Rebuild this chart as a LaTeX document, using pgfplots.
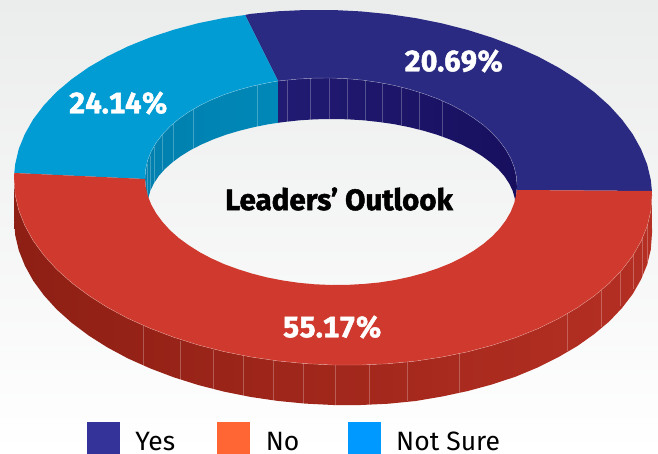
\documentclass[border=0pt]{standalone}
\usepackage{pgfplots}
\pgfplotsset{compat=1.18}
\usepackage{fontspec}
\setmainfont{Fira Sans}
\newfontfamily\labelfont[Numbers=Monospaced,FakeBold=1.6]{Fira Sans Bold}
\definecolor{bgtop}{HTML}{EBECEC}
\definecolor{bgmid}{HTML}{F3F4F4}
\definecolor{topnavy}{HTML}{2A2A82}
\definecolor{topblue}{HTML}{009CD3}
\definecolor{topred}{HTML}{D0392D}
\definecolor{wallredL}{HTML}{8E1F14}
\definecolor{wallredM}{HTML}{A42B1E}
\definecolor{wallredR}{HTML}{B52F23}
\definecolor{wallblueL}{HTML}{0080AE}
\definecolor{wallblueR}{HTML}{0088B8}
\definecolor{wallnavyL}{HTML}{211B73}
\definecolor{wallnavyR}{HTML}{170F5E}
\definecolor{keyyes}{HTML}{333399}
\definecolor{keyno}{HTML}{FF6633}
\definecolor{keyns}{HTML}{0099FF}
\pgfplotsset{
  seam/.style={draw=white,draw opacity=0.25,line width=0.45pt,fill=none},
  rim/.style={draw=white,draw opacity=0.4,line width=0.4pt,fill=none},
  swatch/.style={legend image code/.code={\fill[##1] (0pt,-11pt) rectangle (32pt,20pt);}}
}
\newcommand{\keytext}[1]{\fontsize{26.5}{26.5}\selectfont\raisebox{-1.2pt}{#1}}
\begin{document}
\begin{tikzpicture}
\useasboundingbox (0,0) rectangle (658pt,453pt);
\shade[top color=bgtop,middle color=bgmid,bottom color=white] (0,0) rectangle (658pt,453pt);
\begin{axis}[
  at={(0,0)},anchor=south west,
  width=658pt,height=453pt,scale only axis,
  xmin=0,xmax=658,ymin=0,ymax=453,y dir=reverse,
  hide axis,no markers,
  every axis plot/.append style={forget plot},
  legend style={at={(axis cs:87,453)},anchor=south west,draw=none,fill=none,
    inner sep=0pt,outer sep=0pt,legend columns=3,
    /tikz/every odd column/.append style={column sep=16pt},
    /tikz/every even column/.append style={column sep=0pt},
    nodes={inner sep=0pt,outer sep=0pt}},
  legend cell align=left,
]
% outer side wall of the ring, front half
\addplot[draw=none,left color=wallredL,middle color=wallredM,right color=wallredR] coordinates {
(14.3,173)(14,179.5)(15.2,195.1)(18.8,210.4)(24.9,225.7)(33.2,240.7)(43.9,255.3)(56.7,269.4)(71.7,282.8)(88.6,295.5)(107.4,307.4)(127.9,318.4)(150,328.3)(173.5,337.2)(198.2,345)(223.9,351.6)(250.4,356.9)(277.6,360.9)(305.2,363.6)(333,365)(360.8,365)(388.4,363.7)(415.6,361.1)(442.1,357)(467.8,351.8)(492.5,345.2)(516,337.5)(538.1,328.6)(558.6,318.6)(577.4,307.7)(594.3,295.8)(609.3,283.2)(622.1,269.7)(632.8,255.7)(641.1,241.1)(647.2,226.2)(650.8,210.9)(652,195.5)(651.9,191)
(652,233)(650.8,249.5)(647.2,264.5)(641.1,279.3)(632.8,293.9)(622.1,307.9)(609.3,321.4)(594.3,334)(577.4,346)(558.6,357)(538.1,367.3)(516,376.5)(492.5,384.3)(467.8,391)(442.1,396.5)(415.6,401)(388.4,403.7)(360.8,405)(333,405)(305.2,403.6)(277.6,400.9)(250.4,396.9)(223.9,391.6)(198.2,385)(173.5,377.2)(150,368.3)(127.9,358.4)(107.4,347.4)(88.6,335.5)(71.7,322.8)(56.7,309.4)(43.9,295.3)(33.2,280.7)(24.9,265.7)(18.8,250.4)(15.2,235.1)(14,219.5)
} -- cycle;
% seams on the outer wall
\addplot[seam] coordinates {(143,326)(143,366)};
\addplot[seam] coordinates {(180,341)(180,381)};
\addplot[seam] coordinates {(213,350)(213,390)};
\addplot[seam] coordinates {(243,356)(243,397)};
\addplot[seam] coordinates {(273,361)(273,401)};
\addplot[seam] coordinates {(303,363)(303,404)};
\addplot[seam] coordinates {(335,365)(335,405)};
\addplot[seam] coordinates {(369,364)(369,405)};
\addplot[seam] coordinates {(407,362)(407,401)};
\addplot[seam] coordinates {(459,352)(459,393)};
\addplot[seam] coordinates {(567,312)(567,351)};
\addplot[seam] coordinates {(601,289)(601,327)};
\addplot[seam] coordinates {(620,272)(620,306)};
\addplot[seam] coordinates {(633,252)(633,289)};
\addplot[seam] coordinates {(642,237)(642,276)};
\addplot[seam] coordinates {(647,226)(647,262)};
% inner wall seen through the hole, Not Sure part
\addplot[draw=none,left color=wallblueL,right color=wallblueR] coordinates {
(278,81)(267.4,82.9)(252.4,86.1)(238,90)(224.3,94.6)(211.4,99.8)(199.5,105.7)(188.5,112.1)(178.6,119.1)(169.9,126.5)(162.4,134.4)(156.2,142.6)(151.3,151.1)(147.8,159.8)(145.7,168.8)(145,177.8)
(147.5,206)(148.2,198.4)(150.3,190.9)(153.8,183.5)(158.6,176.2)(164.7,169.2)(172.2,162.5)(180.8,156.1)(190.5,150.1)(201.4,144.5)(213.2,139.4)(226,134.7)(239.5,130.7)(253.7,127.2)(268.6,124.2)(278,122.8)
} -- cycle;
% inner wall seen through the hole, Yes part
\addplot[draw=none,left color=wallnavyL,right color=wallnavyR] coordinates {
(278,81)(282.9,80.5)(298.7,79)(314.8,78.1)(331,78)(347.2,78.7)(363.3,80.2)(379.1,82.5)(394.6,85.5)(409.6,89.3)(424,93.8)(437.7,98.8)(450.6,104.6)(462.5,110.9)(473.5,117.9)(483.4,125.1)(492.1,132.9)(499.6,141.2)(505.8,149.6)(510.7,158.3)(514.2,167.2)(516.3,176.2)(517,185.2)
(515.5,206)(514.8,198.4)(512.7,190.9)(509.2,183.5)(504.4,176.2)(498.3,169.2)(490.8,162.5)(482.2,156.1)(472.5,150.1)(461.6,144.5)(449.8,139.4)(437,134.7)(423.5,130.7)(409.3,127.2)(394.4,124.2)(379.1,122)(363.5,120.3)(347.5,119.3)(331.5,119)(315.5,119.3)(299.5,120.3)(283.9,122)(278,122.8)
} -- cycle;
% seams on the inner wall
\addplot[seam] coordinates {(147,164)(147,198)};
\addplot[seam] coordinates {(150,156)(150,192)};
\addplot[seam] coordinates {(154,147)(154,183)};
\addplot[seam] coordinates {(162,135)(162,170)};
\addplot[seam] coordinates {(173,124)(173,162)};
\addplot[seam] coordinates {(193,109)(193,149)};
\addplot[seam] coordinates {(257,85)(257,126.5)};
\addplot[seam] coordinates {(287,80)(287,121.6)};
\addplot[seam] coordinates {(310,78)(310,119.6)};
\addplot[seam] coordinates {(329,78)(329,119)};
\addplot[seam] coordinates {(347,78)(347,119.3)};
\addplot[seam] coordinates {(365,80)(365,120.5)};
\addplot[seam] coordinates {(382,82)(382,122.3)};
\addplot[seam] coordinates {(401,86)(401,125.4)};
\addplot[seam] coordinates {(419,91)(419,129.5)};
\addplot[seam] coordinates {(442,100)(442,136.5)};
% top face, Yes 20.69%
\addplot[draw=none,fill=topnavy] coordinates {
(245,15)(250.4,13.9)(277.6,11.3)(305.2,10)(333,10)(360.8,11.4)(388.4,14.1)(415.6,18.1)(442.1,23.4)(467.8,30)(492.5,37.8)(516,46.7)(538.1,56.6)(558.6,67.6)(577.4,79.5)(594.3,92.2)(609.3,105.6)(622.1,119.7)(632.8,134.3)(641.1,149.3)(647.2,164.6)(650.8,179.9)(651.9,191)
(516.6,190)(517,185.2)(516.3,176.2)(514.2,167.2)(510.7,158.3)(505.8,149.6)(499.6,141.2)(492.1,132.9)(483.4,125.1)(473.5,117.9)(462.5,110.9)(450.6,104.6)(437.7,98.8)(424,93.8)(409.6,89.3)(394.6,85.5)(379.1,82.5)(363.3,80.2)(347.2,78.7)(331,78)(314.8,78.1)(298.7,79)(282.9,80.5)(278,81)
} -- cycle;
% top face, Not Sure 24.14%
\addplot[draw=none,fill=topblue] coordinates {
(245,15)(223.9,18)(198.2,23.2)(173.5,29.8)(150,37.5)(127.9,46.4)(107.4,56.4)(88.6,67.3)(71.7,79.2)(56.7,91.8)(43.9,105.3)(33.2,119.3)(24.9,133.9)(18.8,148.8)(15.2,164.1)(14.3,173)
(145,179)(145,177.8)(145.7,168.8)(147.8,159.8)(151.3,151.1)(156.2,142.6)(162.4,134.4)(169.9,126.5)(178.6,119.1)(188.5,112.1)(199.5,105.7)(211.4,99.8)(224.3,94.6)(238,90)(252.4,86.1)(267.4,82.9)(278,81)
} -- cycle;
% top face, No 55.17%
\addplot[draw=none,fill=topred] coordinates {
(651.9,191)(652,195.5)(650.8,210.9)(647.2,226.2)(641.1,241.1)(632.8,255.7)(622.1,269.7)(609.3,283.2)(594.3,295.8)(577.4,307.7)(558.6,318.6)(538.1,328.6)(516,337.5)(492.5,345.2)(467.8,351.8)(442.1,357)(415.6,361.1)(388.4,363.7)(360.8,365)(333,365)(305.2,363.6)(277.6,360.9)(250.4,356.9)(223.9,351.6)(198.2,345)(173.5,337.2)(150,328.3)(127.9,318.4)(107.4,307.4)(88.6,295.5)(71.7,282.8)(56.7,269.4)(43.9,255.3)(33.2,240.7)(24.9,225.7)(18.8,210.4)(15.2,195.1)(14,179.5)(14.3,173)
(145,179)(145.7,186.8)(147.8,195.8)(151.3,204.7)(156.2,213.4)(162.4,221.8)(169.9,230.1)(178.6,237.9)(188.5,245.1)(199.5,252.1)(211.4,258.4)(224.3,264.2)(238,269.2)(252.4,273.7)(267.4,277.5)(282.9,280.5)(298.7,282.8)(314.8,284.3)(331,285)(347.2,284.9)(363.3,284)(379.1,282.5)(394.6,280.1)(409.6,276.9)(424,273)(437.7,268.4)(450.6,263.2)(462.5,257.3)(473.5,250.9)(483.4,243.9)(492.1,236.5)(499.6,228.6)(505.8,220.4)(510.7,211.9)(514.2,203.2)(516.3,194.2)(516.6,190)
} -- cycle;
% pale rim along the front edge and along the far edge of the hole
\addplot[rim] coordinates {
(14,179.5)(15.2,195.1)(18.8,210.4)(24.9,225.7)(33.2,240.7)(43.9,255.3)(56.7,269.4)(71.7,282.8)(88.6,295.5)(107.4,307.4)(127.9,318.4)(150,328.3)(173.5,337.2)(198.2,345)(223.9,351.6)(250.4,356.9)(277.6,360.9)(305.2,363.6)(333,365)(360.8,365)(388.4,363.7)(415.6,361.1)(442.1,357)(467.8,351.8)(492.5,345.2)(516,337.5)(538.1,328.6)(558.6,318.6)(577.4,307.7)(594.3,295.8)(609.3,283.2)(622.1,269.7)(632.8,255.7)(641.1,241.1)(647.2,226.2)(650.8,210.9)(652,195.5)
};
\addplot[rim] coordinates {
(145,177.8)(145.7,168.8)(147.8,159.8)(151.3,151.1)(156.2,142.6)(162.4,134.4)(169.9,126.5)(178.6,119.1)(188.5,112.1)(199.5,105.7)(211.4,99.8)(224.3,94.6)(238,90)(252.4,86.1)(267.4,82.9)(278,81)(282.9,80.5)(298.7,79)(314.8,78.1)(331,78)(347.2,78.7)(363.3,80.2)(379.1,82.5)(394.6,85.5)(409.6,89.3)(424,93.8)(437.7,98.8)(450.6,104.6)(462.5,110.9)(473.5,117.9)(483.4,125.1)(492.1,132.9)(499.6,141.2)(505.8,149.6)(510.7,158.3)(514.2,167.2)(516.3,176.2)(517,185.2)
};
% slice percentages and centre title
\node[text=white,font=\labelfont\fontsize{29.3}{30}\selectfont] at (axis cs:454,61) {20.69\%};
\node[text=white,font=\labelfont\fontsize{29.3}{30}\selectfont] at (axis cs:118.5,103) {24.14\%};
\node[text=white,font=\labelfont\fontsize{29.3}{30}\selectfont] at (axis cs:332.5,327) {55.17\%};
\node[text=black,font=\labelfont\fontsize{29.5}{30}\selectfont] at (axis cs:339,199) {Leaders’ Outlook};
% legend
\addlegendimage{swatch,keyyes}
\addlegendentry{\keytext{\makebox[82pt][l]{Yes}}}
\addlegendimage{swatch,keyno}
\addlegendentry{\keytext{\makebox[82pt][l]{No}}}
\addlegendimage{swatch,keyns}
\addlegendentry{\keytext{Not Sure}}
\end{axis}
\end{tikzpicture}
\end{document}
